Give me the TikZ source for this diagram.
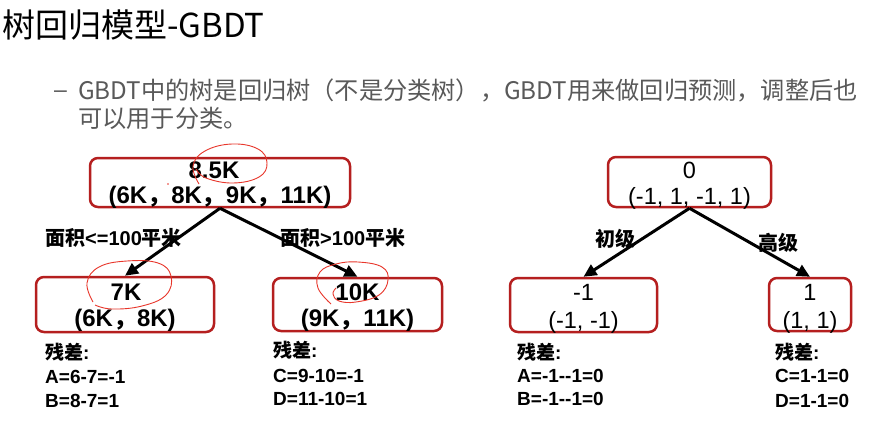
\documentclass[tikz,border=0pt]{standalone}
\usepackage{fontspec}
\setmainfont{Liberation Sans}
\newfontfamily\cjk{Noto Sans CJK SC}
\usetikzlibrary{arrows.meta}
\definecolor{boxred}{HTML}{B51F1F}
\definecolor{penred}{HTML}{E8362B}
\definecolor{txtgray}{HTML}{595959}
\newcommand{\fwc}{{\cjk ，}}
\tikzset{
 treebox/.style={draw=boxred, line width=2.5pt, rounded corners=8pt, inner sep=0pt},
 arr/.style={line width=3pt, -{Triangle[length=13pt,width=12pt]}},
 val/.style={font=\fontsize{24}{24}\selectfont\bfseries, inner sep=0pt},
 valr/.style={font=\fontsize{23.5}{23.5}\selectfont, inner sep=0pt},
 lab/.style={font=\fontsize{20}{20}\selectfont\bfseries, inner sep=0pt, anchor=west},
 res/.style={font=\fontsize{19}{19}\selectfont\bfseries, inner sep=0pt, anchor=base west},
 pen/.style={draw=penred, line width=0.9pt},
}
\begin{document}
\begin{tikzpicture}[x=1pt,y=-1pt]
\useasboundingbox[fill=white] (0,0) rectangle (889,445);
% title and bullet
\node[anchor=west, font=\cjk\fontsize{33}{33}\selectfont, inner sep=0pt] (title) at (2,25) {树回归模型-GBDT};
\node[anchor=west, text=txtgray, font=\fontsize{23}{23}\selectfont, inner sep=0pt] (dash) at (54,94) {–};
\node[anchor=west, text=txtgray, font=\cjk\fontsize{24.2}{24.2}\selectfont, inner sep=0pt] (bul1) at (78,90) {GBDT中的树是回归树（不是分类树），GBDT用来做回归预测，调整后也};
\node[anchor=west, text=txtgray, font=\cjk\fontsize{24.2}{24.2}\selectfont, inner sep=0pt] (bul2) at (78,118) {可以用于分类。};
% left tree boxes
\node[treebox, minimum width=260pt, minimum height=49pt] (r1) at (220,182.5) {};
\node[treebox, minimum width=178pt, minimum height=55pt] (c1) at (125,304.5) {};
\node[treebox, minimum width=169pt, minimum height=53pt] (c2) at (357.5,304.5) {};
% right tree boxes
\node[treebox, minimum width=163pt, minimum height=50pt] (r2) at (689.5,182) {};
\node[treebox, minimum width=147pt, minimum height=54pt] (c3) at (583.5,305) {};
\node[treebox, minimum width=82pt, minimum height=53pt] (c4) at (810,304.5) {};
% box texts
\node[val] (r1a) at (214,170) {8.5K};
\node[val] (r1b) at (220,197) {(6K\fwc 8K\fwc 9K\fwc 11K)};
\node[val] (c1a) at (126,292) {7K};
\node[val] (c1b) at (125,320) {(6K\fwc 8K)};
\node[val] (c2a) at (357.5,292) {10K};
\node[val] (c2b) at (357.5,320) {(9K\fwc 11K)};
\node[valr] (r2a) at (689.5,170) {0};
\node[valr] (r2b) at (689.5,198) {(-1, 1, -1, 1)};
\node[valr] (c3a) at (583.5,292) {-1};
\node[valr] (c3b) at (583.5,322) {(-1, -1)};
\node[valr] (c4a) at (810,292) {1};
\node[valr] (c4b) at (810,322) {(1, 1)};
% arrows
\draw[arr] (r1.south) -- (c1.north);
\draw[arr] (r1.south) -- (c2.north);
\draw[arr] (r2.south) -- (c3.north);
\draw[arr] (r2.south) -- (c4.north);
% edge labels
\node[lab] (l1) at (45,238) {{\cjk 面积}<=100{\cjk 平米}};
\node[lab] (l2) at (280,238) {{\cjk 面积}>100{\cjk 平米}};
\node[lab] (l3) at (595,239) {\cjk 初级};
\node[lab] (l4) at (758,243) {\cjk 高级};
% residuals
\node[res] (e1a) at (45,359) {{\cjk 残差}:};
\node[res] (e1b) at (45,383) {A=6-7=-1};
\node[res] (e1c) at (45,407) {B=8-7=1};
\node[res] (e2a) at (273,357) {{\cjk 残差}:};
\node[res] (e2b) at (273,382) {C=9-10=-1};
\node[res] (e2c) at (273,405) {D=11-10=1};
\node[res] (e3a) at (517,359) {{\cjk 残差}:};
\node[res] (e3b) at (517,382) {A=-1-{}-1=0};
\node[res] (e3c) at (517,405) {B=-1-{}-1=0};
\node[res] (e4a) at (775,359) {{\cjk 残差}:};
\node[res] (e4b) at (775,382) {C=1-1=0};
\node[res] (e4c) at (775,407) {D=1-1=0};
% red pen annotations
\draw[pen] plot[smooth, tension=0.7] coordinates {(199,184) (193,166) (205,151) (232,144) (258,149) (267,163) (259,177) (233,183) (206,178) (196,169)};
\fill[penred] (168,184) circle (0.9pt);
\draw[pen] plot[smooth, tension=0.7] coordinates {(93,302) (87,283) (99,267) (127,261) (158,263) (171,276) (166,295) (142,306) (112,309) (95,305)};
\draw[pen] plot[smooth, tension=0.7] coordinates {(331,304) (318,288) (320,272) (336,264) (358,262) (382,267) (388,280) (379,295) (356,302) (339,301) (333,294) (336,288)};
\end{tikzpicture}
\end{document}
